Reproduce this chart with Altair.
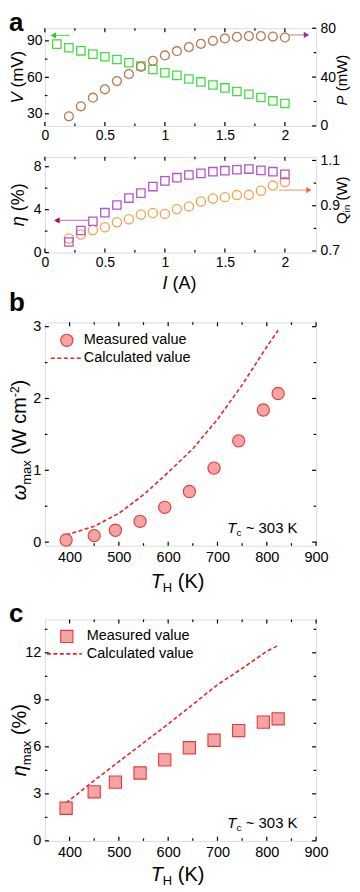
import altair as alt
import pandas as pd

FONT = "Liberation Sans"

# ---------------- data ----------------
# (a) upper: output voltage V (mV) and output power P (mW) vs current I (A)
I_V = [0.1, 0.2, 0.3, 0.4, 0.5, 0.6, 0.7, 0.8, 0.9, 1.0,
       1.1, 1.2, 1.3, 1.4, 1.5, 1.6, 1.7, 1.8, 1.9, 2.0]
V_MV = [87.3, 84.3, 81.8, 79.1, 76.9, 74.7, 72.0, 69.3, 66.5, 63.8,
        61.6, 58.6, 56.2, 53.7, 51.3, 48.3, 46.1, 43.4, 40.6, 38.5]
I_P = [0.2, 0.3, 0.4, 0.5, 0.6, 0.7, 0.8, 0.9, 1.0, 1.1,
       1.2, 1.3, 1.4, 1.5, 1.6, 1.7, 1.8, 1.9, 2.0]
P_MW = [7.9, 16.1, 23.1, 29.9, 36.7, 42.4, 48.4, 53.3, 57.7, 61.2,
        64.5, 67.2, 69.7, 71.6, 72.9, 73.5, 73.5, 73.2, 72.4]
# (a) lower: efficiency eta (%) and heat input Q_in (W)
I_ETA = [0.2, 0.3, 0.4, 0.5, 0.6, 0.7, 0.8, 0.9, 1.0, 1.1,
         1.2, 1.3, 1.4, 1.5, 1.6, 1.7, 1.8, 1.9, 2.0]
ETA_PCT = [0.98, 2.06, 2.92, 3.72, 4.43, 5.08, 5.54, 6.15, 6.68, 6.98,
           7.23, 7.38, 7.54, 7.63, 7.72, 7.78, 7.66, 7.54, 7.29]
Q_IN_W = [0.755, 0.773, 0.793, 0.805, 0.827, 0.840, 0.861, 0.868, 0.864, 0.885,
          0.897, 0.919, 0.932, 0.938, 0.947, 0.948, 0.966, 0.989, 1.005]
# (b) max power density and (c) max efficiency vs hot-side temperature
T_H_MEAS = [393, 450, 493, 543, 593, 643, 693, 743, 793, 823]
OMEGA_MEAS = [0.03, 0.09, 0.165, 0.29, 0.485, 0.705, 1.03, 1.41, 1.84, 2.07]
T_H_CALC = [393, 450, 500, 550, 600, 650, 700, 750, 800, 823]
OMEGA_CALC = [0.10, 0.22, 0.40, 0.66, 0.97, 1.30, 1.71, 2.19, 2.72, 2.95]
ETA_MAX_MEAS = [2.08, 3.13, 3.75, 4.33, 5.17, 5.94, 6.42, 7.04, 7.58, 7.79]
ETA_MAX_CALC = [2.42, 3.85, 5.06, 6.25, 7.46, 8.70, 9.96, 11.0, 12.1, 12.46]

# axis ticks
I_TICKS = [0, 0.5, 1, 1.5, 2]
I_MINOR = [0.25, 0.75, 1.25, 1.75]
V_TICKS = [30, 60, 90]
V_MINOR = [45, 75]
P_TICKS = [0, 40, 80]
P_MINOR = [20, 60]
ETA_TICKS = [0, 4, 8]
ETA_MINOR = [2, 6]
Q_TICKS = [0.7, 0.9, 1.1]
Q_MINOR = [0.8, 1.0]
T_TICKS = [400, 500, 600, 700, 800, 900]
T_MINOR = [450, 550, 650, 750, 850]
OM_TICKS = [0, 1, 2, 3]
OM_MINOR = [0.5, 1.5, 2.5]
EM_TICKS = [0, 3, 6, 9, 12]
EM_MINOR = [1.5, 4.5, 7.5, 10.5, 13.5]

# arrow annotations (data units): start x, head x, y
ARROW_V = [0.21, 0.07, 94.5]
ARROW_P = [2.03, 2.18, 74.5]
ARROW_ETA = [0.375, 0.10, 3.0]
ARROW_Q = [1.95, 2.20, 0.969]

# domains
DOM_I = [0, 2.26]
DOM_V = [20, 100.4]
DOM_P = [0, 80]
DOM_ETA = [0, 8.92]
DOM_Q = [0.693, 1.116]
DOM_T = [350, 900]
DOM_OM = [-0.05, 3.06]
DOM_EM = [0, 14.125]

W = 272
H_A1, H_A2, H_B, H_C = 98, 96, 224, 222

GREEN = "#45dc45"
BROWN = "#b97a52"
PURPLE = "#b454c6"
ORANGE = "#f5a04c"
PINK = "#f6a3a3"
RED_EDGE = "#e23c3c"
RED_LINE = "#e3262b"

EM = {' ': 0.278, '(': 0.333, ')': 0.333, '%': 0.889, '-': 0.333, '~': 0.584,
      'A': 0.667, 'H': 0.722, 'I': 0.278, 'K': 0.667, 'P': 0.667, 'Q': 0.778,
      'T': 0.611, 'V': 0.667, 'W': 0.944, 'a': 0.556, 'c': 0.5, 'i': 0.222,
      'm': 0.833, 'n': 0.556, 'x': 0.5, 'η': 0.556, 'ω': 0.78}

LABEL_EXPR = "'' + datum.value"


def tw(s, size):
    return sum(EM.get(ch, 0.556) for ch in s) * size


def sc(dom):
    return alt.Scale(domain=dom, nice=False, zero=False)


def txt(x, y, t, size, style="normal", weight="normal", angle=0,
        align="left", baseline="alphabetic", color="black"):
    return alt.Chart(pd.DataFrame({"t": [t]})).mark_text(
        font=FONT, fontSize=size, fontStyle=style, fontWeight=weight,
        angle=angle, align=align, baseline=baseline, color=color
    ).encode(x=alt.value(x), y=alt.value(y), text="t:N")


def split_lead(t):
    s = t.lstrip(" ")
    return s, t[:len(t) - len(s)]


def hrow_left(x, y, pieces):
    out = []
    for t, size, style, shift in pieces:
        s, lead = split_lead(t)
        x += tw(lead, size)
        out.append(txt(x, y + shift, s, size, style))
        x += tw(s, size)
    return out


def hrow(xc, y, pieces):
    total = sum(tw(p[0], p[1]) for p in pieces)
    return hrow_left(xc - total / 2, y, pieces)


def vrow(cx, yc, pieces):
    total = sum(tw(p[0], p[1]) for p in pieces)
    y = yc + total / 2
    out = []
    for t, size, style, shift in pieces:
        s, lead = split_lead(t)
        y -= tw(lead, size)
        out.append(txt(cx + shift, y, s, size, style, angle=270))
        y -= tw(s, size)
    return out


def spacer(y):
    return txt(0, y, " ", 1, baseline="top")


def xaxis(vals, pad, fs):
    return alt.Axis(values=vals, orient="bottom", title=None, labelFontSize=fs,
                    labelPadding=pad, labelFont=FONT, labelColor="black",
                    labelExpr=LABEL_EXPR,
                    ticks=False, tickSize=0, domain=False, grid=False,
                    labelFlush=False, labelOverlap=False)


def yaxis(vals, orient, fs, pad=4):
    return alt.Axis(values=vals, orient=orient, title=None, labelFontSize=fs,
                    labelPadding=pad, labelFont=FONT, labelColor="black",
                    labelExpr=LABEL_EXPR,
                    ticks=False, tickSize=0, domain=False, grid=False,
                    labelFlush=False, labelOverlap=False)


def ticks_x(vals, dom, H, ln):
    base = alt.Chart(pd.DataFrame({"v": vals})).mark_rule(color="black", strokeWidth=1.2)
    xe = alt.X("v:Q", scale=sc(dom), axis=None)
    return [base.encode(x=xe, y=alt.value(H), y2=alt.value(H - ln)),
            base.encode(x=xe, y=alt.value(0), y2=alt.value(ln))]


def ticks_y(vals, dom, x0, x1):
    base = alt.Chart(pd.DataFrame({"v": vals})).mark_rule(color="black", strokeWidth=1.2)
    ye = alt.Y("v:Q", scale=sc(dom), axis=None)
    return [base.encode(y=ye, x=alt.value(x0), x2=alt.value(x1))]


def arrow(spec, xdom, ydom, line_color, head_color, shape):
    df = pd.DataFrame({"x1": [spec[0]], "x2": [spec[1]], "y": [spec[2]]})
    r = alt.Chart(df).mark_rule(color=line_color, strokeWidth=1.2).encode(
        x=alt.X("x1:Q", scale=sc(xdom), axis=None), x2="x2:Q",
        y=alt.Y("y:Q", scale=sc(ydom), axis=None))
    h = alt.Chart(df).mark_point(shape=shape, filled=True, color=head_color,
                                 size=40, opacity=1, strokeWidth=0).encode(
        x=alt.X("x2:Q", scale=sc(xdom), axis=None),
        y=alt.Y("y:Q", scale=sc(ydom), axis=None))
    return [r, h]


def panel(layers, H):
    return alt.layer(*layers).properties(width=W, height=H).resolve_scale(
        x="independent", y="independent")


# ---------------- panel a (upper) ----------------
L = []
L += ticks_x(I_TICKS, DOM_I, H_A1, 4) + ticks_x(I_MINOR, DOM_I, H_A1, 2.5)
L += ticks_y(V_TICKS, DOM_V, 0, 4) + ticks_y(V_MINOR, DOM_V, 0, 2.5)
L += ticks_y(P_TICKS, DOM_P, W, W - 4) + ticks_y(P_MINOR, DOM_P, W, W - 2.5)
L.append(alt.Chart(pd.DataFrame({"I": I_V, "V": V_MV})).mark_point(
    shape="square", size=70, filled=False, color=GREEN, strokeWidth=1.3, opacity=1
).encode(x=alt.X("I:Q", scale=sc(DOM_I), axis=xaxis(I_TICKS, 3, 14)),
         y=alt.Y("V:Q", scale=sc(DOM_V), axis=yaxis(V_TICKS, "left", 14, 3))))
L.append(alt.Chart(pd.DataFrame({"I": I_P, "P": P_MW})).mark_point(
    shape="circle", size=80, filled=False, color=BROWN, strokeWidth=1.3, opacity=1
).encode(x=alt.X("I:Q", scale=sc(DOM_I), axis=None),
         y=alt.Y("P:Q", scale=sc(DOM_P), axis=yaxis(P_TICKS, "right", 14))))
L += arrow(ARROW_V, DOM_I, DOM_V, "#6fdc6f", "#2fc62f", "triangle-left")
L += arrow(ARROW_P, DOM_I, DOM_P, "#c9988a", "#9b2f86", "triangle-right")
L.append(txt(-36, 3, "a", 26, weight="bold"))
L += vrow(-22, H_A1 / 2, [("V", 17, "italic", 0), (" (mV)", 17, "normal", 0)])
L += vrow(W + 31, 52, [("P", 15, "italic", 0), (" (mW)", 15, "normal", 0)])
L.append(spacer(H_A1 + 20))
pa1 = panel(L, H_A1)

# ---------------- panel a (lower) ----------------
L = [spacer(-8)]
L += ticks_x(I_TICKS, DOM_I, H_A2, 4) + ticks_x(I_MINOR, DOM_I, H_A2, 2.5)
L += ticks_y(ETA_TICKS, DOM_ETA, 0, 4) + ticks_y(ETA_MINOR, DOM_ETA, 0, 2.5)
L += ticks_y(Q_TICKS, DOM_Q, W, W - 4) + ticks_y(Q_MINOR, DOM_Q, W, W - 2.5)
L.append(alt.Chart(pd.DataFrame({"I": I_ETA, "Q": Q_IN_W})).mark_point(
    shape="circle", size=85, filled=False, color=ORANGE, strokeWidth=1.3, opacity=1
).encode(x=alt.X("I:Q", scale=sc(DOM_I), axis=None),
         y=alt.Y("Q:Q", scale=sc(DOM_Q), axis=yaxis(Q_TICKS, "right", 14))))
L.append(alt.Chart(pd.DataFrame({"I": I_ETA, "E": ETA_PCT})).mark_point(
    shape="square", size=70, filled=False, color=PURPLE, strokeWidth=1.3, opacity=1
).encode(x=alt.X("I:Q", scale=sc(DOM_I), axis=xaxis(I_TICKS, 2.5, 14)),
         y=alt.Y("E:Q", scale=sc(DOM_ETA), axis=yaxis(ETA_TICKS, "left", 14))))
L += arrow(ARROW_ETA, DOM_I, DOM_ETA, "#cf86cf", "#a3123f", "triangle-left")
L += arrow(ARROW_Q, DOM_I, DOM_Q, "#f4a486", "#ee6a4e", "triangle-right")
L += vrow(-21, H_A2 / 2, [("η", 18, "italic", 0), (" (%)", 18, "normal", 0)])
L += vrow(W + 30.5, 43.5, [("Q", 15, "normal", 0), ("in", 10, "normal", 3),
                           (" (W)", 15, "normal", 0)])
L += hrow(W / 2 - 1, H_A2 + 37, [("I", 18, "italic", 0), (" (A)", 18, "normal", 0)])
L.append(txt(-36, H_A2 + 59, "b", 26, weight="bold"))
pa2 = panel(L, H_A2)


# ---------------- panels b and c ----------------
def lower_panel(H, ydom, ymaj, ymin, meas, calc, shape, title_pieces, title_yc,
                leg_mark_x, leg_mark_y, leg_text_x, leg_line, leg_y2,
                title_base, label=None):
    L = []
    if label is None:
        L.append(spacer(-4))
    else:
        L.append(txt(-36, 3, label, 26, weight="bold"))
    L += ticks_x(T_TICKS, DOM_T, H, 4) + ticks_x(T_MINOR, DOM_T, H, 2.5)
    L += ticks_y(ymaj, ydom, 0, 4) + ticks_y(ymin, ydom, 0, 2.5)
    L += ticks_y(ymaj, ydom, W, W - 4) + ticks_y(ymin, ydom, W, W - 2.5)
    L.append(alt.Chart(pd.DataFrame({"T": T_H_CALC, "y": calc})).mark_line(
        color=RED_LINE, strokeWidth=1.6, strokeDash=[4, 2.5]
    ).encode(x=alt.X("T:Q", scale=sc(DOM_T), axis=None),
             y=alt.Y("y:Q", scale=sc(ydom), axis=None)))
    L.append(alt.Chart(pd.DataFrame({"T": T_H_MEAS, "y": meas})).mark_point(
        shape=shape, size=150, filled=True, fill=PINK, stroke=RED_EDGE,
        strokeWidth=1.1, opacity=1
    ).encode(x=alt.X("T:Q", scale=sc(DOM_T), axis=xaxis(T_TICKS, 5, 14.5)),
             y=alt.Y("y:Q", scale=sc(ydom), axis=yaxis(ymaj, "left", 14.5))))
    # legend
    L.append(alt.Chart(pd.DataFrame({"k": ["Measured value"]})).mark_point(
        shape=shape, size=150, filled=True, fill=PINK, stroke=RED_EDGE,
        strokeWidth=1.1, opacity=1
    ).encode(x=alt.value(leg_mark_x), y=alt.value(leg_mark_y)))
    L.append(txt(leg_text_x, leg_mark_y, "Measured value", 14.5, baseline="middle"))
    L.append(alt.Chart(pd.DataFrame({"k": ["Calculated value"]})).mark_rule(
        color=RED_LINE, strokeWidth=1.6, strokeDash=[4, 2.5]
    ).encode(x=alt.value(leg_line[0]), x2=alt.value(leg_line[1]), y=alt.value(leg_y2)))
    L.append(txt(leg_text_x, leg_y2, "Calculated value", 14.5, baseline="middle"))
    L += hrow_left(183, H - 12.7, [("T", 15, "italic", 0), ("c", 10, "normal", 3),
                                   (" ~ 303 K", 15, "normal", 0)])
    L += vrow(-18.5, title_yc, title_pieces)
    L += hrow(W / 2 - 3, H + title_base, [("T", 20, "italic", 0), ("H", 13, "normal", 4.5),
                                          (" (K)", 20, "normal", 0)])
    return L


L = lower_panel(H_B, DOM_OM, OM_TICKS, OM_MINOR, OMEGA_MEAS, OMEGA_CALC, "circle",
                [("ω", 20, "italic", 0), ("max", 13, "normal", 4.5),
                 (" (W cm", 20, "normal", 0), ("-2", 12, "normal", -7.5),
                 (")", 20, "normal", 0)],
                H_B / 2 + 6, 22, 18, 39, (6, 37), 36, 42)
L.append(spacer(H_B + 53))
pb = panel(L, H_B)

L = lower_panel(H_C, DOM_EM, EM_TICKS, EM_MINOR, ETA_MAX_MEAS, ETA_MAX_CALC, "square",
                [("η", 20, "italic", 0), ("max", 13, "normal", 4.5),
                 (" (%)", 20, "normal", 0)],
                H_C / 2 + 10, 22, 17, 42, (2, 37), 34.5, 40, label="c")
pc = panel(L, H_C)

chart = alt.vconcat(pa1, pa2, pb, pc, spacing=0).properties(
    padding=0,
    background="white",
).configure_view(stroke="black", strokeWidth=1.5).configure(font=FONT)

chart.save("out.html", embed_options={"renderer": "svg", "actions": False})
